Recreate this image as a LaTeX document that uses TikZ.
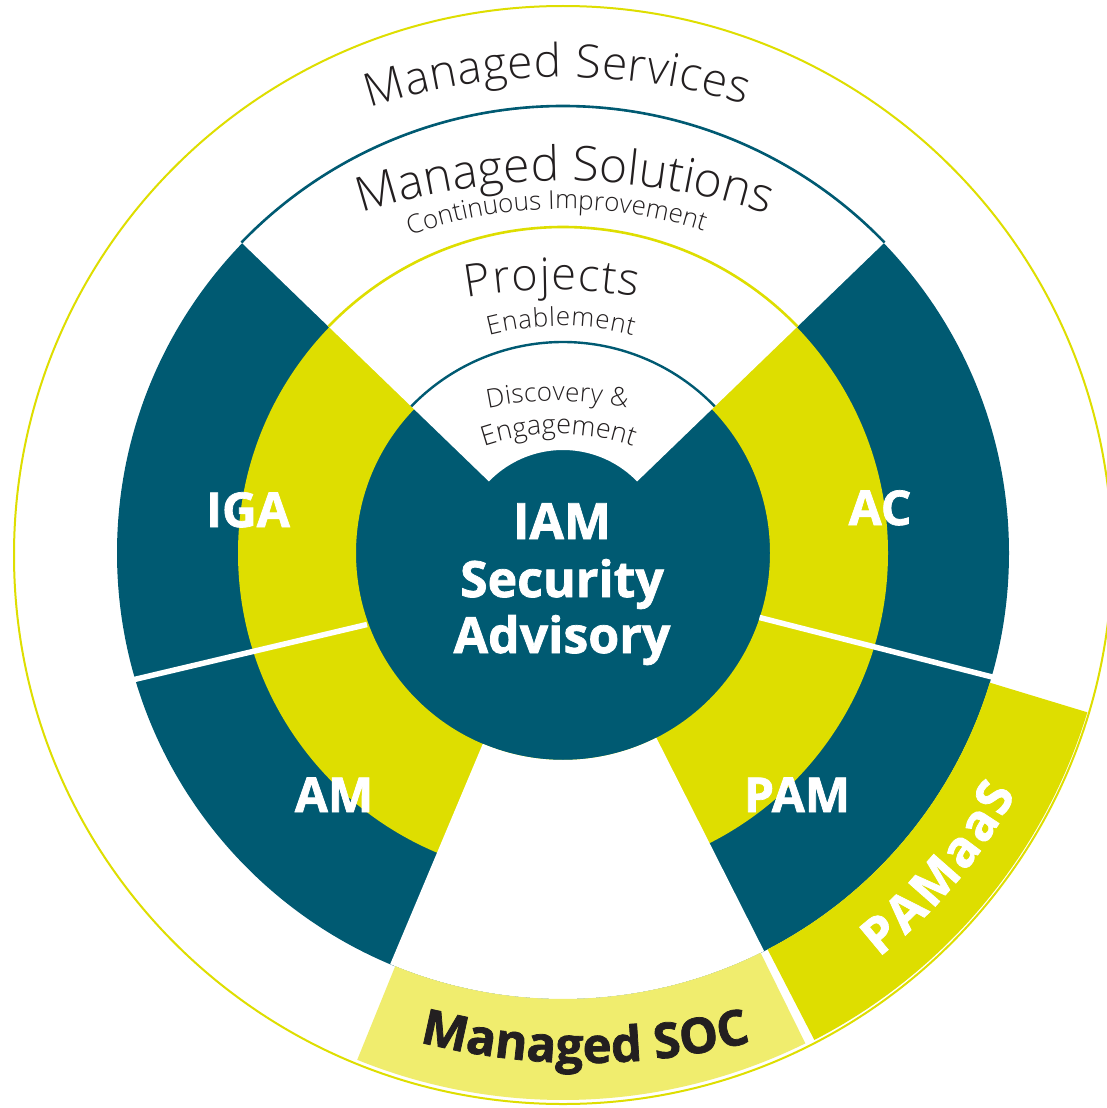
\documentclass[tikz,border=0pt]{standalone}
\usepackage{fontspec}
\setmainfont{Open Sans}[BoldFeatures={FakeBold=1.5}]
\newfontfamily\lightfont{Open Sans Light}
\usetikzlibrary{decorations.text,calc}
\definecolor{tealc}{RGB}{0,90,114}
\definecolor{yelc}{RGB}{222,222,0}
\definecolor{lyelc}{RGB}{240,237,110}
\definecolor{darkc}{RGB}{35,31,32}
\begin{document}
\begin{tikzpicture}[x=1pt,y=1pt,
  whitelabel/.style={font=\fontsize{48}{48}\selectfont\bfseries, text=white, anchor=base, inner sep=0pt},
  iamlabel/.style={font=\fontsize{50}{50}\selectfont\bfseries, text=white, anchor=base, inner sep=0pt},
  divider/.style={draw=white, line width=5.5pt},
  curvedlight/.style={decorate, decoration={text along path, text color=darkc, text align=fit to path}},
]
\useasboundingbox (0,0) rectangle (1107,-1108);
\fill[white] (0,0) rectangle (1107,-1108);
\coordinate (C) at (563,-553);
\coordinate (O) at (563,-555);
% rings
\fill[tealc] (C) circle[radius=446];
\fill[yelc, even odd rule] (C) circle[radius=325] (C) circle[radius=207];
% top white wedge
\fill[white] ($(C)+(44:103)$) arc[start angle=44,end angle=136,radius=103]
  -- ($(C)+(136:446)$) arc[start angle=136,end angle=44,radius=446] -- cycle;
% bottom white wedge
\fill[white] ($(C)+(247.2:207)$) arc[start angle=247.2,end angle=296.8,radius=207]
  -- ($(C)+(296.8:446)$) arc[start angle=296.8,end angle=247.2,radius=446] -- cycle;
% Managed SOC band
\fill[lyelc] ($(C)+(247.9:446)$) arc[start angle=247.9,end angle=296.3,radius=446]
  -- ($(C)+(296.3:547)$) arc[start angle=296.3,end angle=247.9,radius=547] -- cycle;
% PAMaaS band
\fill[yelc] ($(C)+(297.3:446)$) arc[start angle=297.3,end angle=343.1,radius=446]
  -- ($(C)+(343.1:548)$) arc[start angle=343.1,end angle=297.3,radius=548] -- cycle;
% dividers
\coordinate (dl1) at (367,-624.5);
\coordinate (dl2) at (128,-681);
\coordinate (dr1) at (759.5,-617.5);
\coordinate (dr2) at (1000,-679);
\draw[divider] (dl1) -- (dl2);
\draw[divider] (dr1) -- (dr2);
% outline arcs
\draw[tealc, line width=2.6pt] ($(C)+(44:447)$) arc[start angle=44,end angle=136,radius=447];
\draw[yelc, line width=2.6pt] ($(C)+(44:326)$) arc[start angle=44,end angle=136,radius=326];
\draw[tealc, line width=2.4pt] ($(C)+(44:211)$) arc[start angle=44,end angle=136,radius=211];
% outer circle
\draw[yelc, line width=2pt] (O) circle[radius=549];
% curved light texts
\path[curvedlight, decoration={text={|\lightfont\fontsize{46}{46}\selectfont|Managed Services}}]
  ($(563,-697)+(108.2:620)$) arc[start angle=108.2,end angle=72.9,radius=620];
\path[curvedlight, decoration={text={|\lightfont\fontsize{48}{48}\selectfont|Managed Solutions}}]
  ($(563,-831)+(108.01:650)$) arc[start angle=108.01,end angle=71.62,radius=650];
\path[curvedlight, decoration={text={|\lightfont\fontsize{26}{26}\selectfont|Continuous Improvement}}]
  ($(563,-669)+(109.43:460)$) arc[start angle=109.43,end angle=72.28,radius=460];
\path[curvedlight, decoration={text={|\lightfont\fontsize{45}{45}\selectfont|Projects}}]
  ($(555,-790)+(100.14:500)$) arc[start angle=100.14,end angle=80.56,radius=500];
\path[curvedlight, decoration={text={|\lightfont\fontsize{26}{26}\selectfont|Enablement}}]
  ($(561,-606)+(104.9:280)$) arc[start angle=104.9,end angle=75.1,radius=280];
\path[curvedlight, decoration={text={|\lightfont\fontsize{26}{26}\selectfont|Discovery {\&}}}]
  ($(557,-735)+(101.93:334)$) arc[start angle=101.93,end angle=77.9,radius=334];
\path[curvedlight, decoration={text={|\lightfont\fontsize{27}{27}\selectfont|Engagement}}]
  ($(558,-664)+(108.77:230)$) arc[start angle=108.77,end angle=70.97,radius=230];
% bottom curved bold texts
\path[decorate, decoration={text along path, text color=darkc, text align=fit to path,
  text={|\fontsize{49}{49}\selectfont\bfseries|Managed SOC}}]
  ($(585,-397)+(255.6:666)$) arc[start angle=255.6,end angle=284.4,radius=666];
\path[decorate, decoration={text along path, text color=white, text align=fit to path,
  text={|\fontsize{50}{50}\selectfont\bfseries|PAMaaS}}]
  ($(C)+(-52:513)$) arc[start angle=-52,end angle=-28,radius=513];
% straight labels
\node[whitelabel] (iga) at (248,-527) {IGA};
\node[whitelabel] (am) at (334,-812) {AM};
\node[whitelabel] (pam) at (797,-812) {PAM};
\node[whitelabel] (ac) at (880,-525) {AC};
\node[iamlabel] (iam1) at (562,-539) {IAM};
\node[iamlabel] (iam2) at (562,-597) {Security};
\node[iamlabel] (iam3) at (562,-653) {Advisory};
\end{tikzpicture}
\end{document}
